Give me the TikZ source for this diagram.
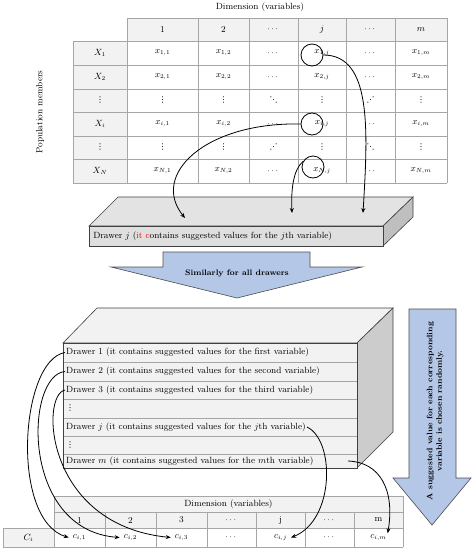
\documentclass[tikz,border=0pt]{standalone}
\usepackage{amsmath,amssymb}
\usepackage{fontspec}
\usepackage{xcolor}
\usetikzlibrary{arrows.meta,positioning,calc}
\newfontfamily\dotsfont{DejaVu Sans}
\definecolor{tgray}{HTML}{F2F2F2}
\definecolor{arrowblue}{HTML}{B4C7E7}
\newcommand{\vdts}{{\dotsfont\footnotesize ⋮}}
\newcommand{\ddts}{{\dotsfont\footnotesize ⋱}}
\newcommand{\udts}{{\dotsfont\footnotesize ⋰}}

\begin{document}
\begin{tikzpicture}[
		x=1pt, y=-1pt,
		font=\fontsize{9}{10.5}\selectfont,
		every node/.style={inner sep=1pt},
		tabline/.style={draw=gray!70, line width=0.6pt},
		ring/.style={draw, circle, line width=0.8pt, minimum size=22pt, inner sep=0pt},
		feed/.style={-{Stealth[length=5pt,width=4pt]}, line width=0.8pt},
		boxface/.style={draw=black!75, line width=0.6pt},
		bigarrow/.style={draw=black!70, fill=arrowblue, line width=0.6pt}
		]
		
		\useasboundingbox (0,0) rectangle (476,550);
		
		\fill[tgray] (127,18) rectangle (447,41) (73,41) rectangle (127,183);
		\draw[tabline] (127,18) -- (447,18);
		\foreach \y in {41,65,89,112,136,159,183}
			\draw[tabline] (73,\y) -- (447,\y);
		\draw[tabline] (73,41) -- (73,183);
		\foreach \x in {127,198,249,298,346,395,447}
			\draw[tabline] (\x,18) -- (\x,183);
		
		\node (dimtop) at (260,7) {Dimension (variables)};
		\node[rotate=90] (pop) at (40,112) {Population members};
		
		\foreach \cx/\h [count=\k] in {162.5/1,223.5/2,273.5/\cdots,322/j,370.5/\cdots,421/m}
			\node (hd-\k) at (\cx,29.5) {$\h$};
		\foreach \n/\y in {1/53,2/77,i/124,N/171}{
			\node (lab-\n) at (100,\y) {$X_\n$};
			\foreach \cx/\k in {162.5/1,223.5/2,322/j,421/m}
				\node (x-\n-\k) at (\cx,\y) {$x_{\n,\k}$};
			\node (cd-\n-3) at (273.5,\y) {$\cdots$};
			\node (cd-\n-5) at (370.5,\y) {$\cdots$};
		}
		\foreach \n/\y/\p/\q in {a/100.5/\ddts/\udts, b/147.5/\udts/\ddts}{
			\node (lab-\n) at (100,\y) {\vdts};
			\foreach \cx/\k in {162.5/1,223.5/2,322/4,421/6}
				\node (v-\n-\k) at (\cx,\y) {\vdts};
			\node (v-\n-3) at (273.5,\y) {\p};
			\node (v-\n-5) at (370.5,\y) {\q};
		}
		
		\node[ring] (r1) at (312,55) {};
		\node[ring] (ri) at (312,124) {};
		\node[ring] (rN) at (313,167) {};
		
		% drawer j
		\filldraw[boxface, fill=gray!22] (89,226) -- (118,197) -- (413,197) -- (383,226) -- cycle;
		\filldraw[boxface, fill=gray!50] (383,226) -- (413,197) -- (413,217) -- (383,246) -- cycle;
		\node[boxface, fill=gray!25, anchor=north west, minimum height=20pt, text width=286pt, inner sep=4pt, align=left] (drawerj) at (89,226)
			{Drawer $j$ (\textcolor{red}{it c}ontains suggested values for the $j$th variable)};
		
		\coordinate (in1) at (185,218);
		\coordinate (in2) at (292,213);
		\coordinate (in3) at (363,213);
		\draw[feed] (r1.east) .. controls (372,55) and (368,130) .. (in3);
		\draw[feed] (ri.west) .. controls (205,122) and (150,175) .. (in1);
		\draw[feed] (rN.150) .. controls (293,170) and (291,190) .. (in2);
		
		\filldraw[bigarrow] (163,252) -- (310,252) -- (310,267) -- (362,267) -- (237,298) -- (111,267) -- (163,267) -- cycle;
		\node[font=\footnotesize\bfseries] (similar) at (237,273) {Similarly for all drawers};
		
		% all drawers
		\filldraw[boxface, fill=tgray] (63,343) -- (97,308) -- (393,308) -- (357,343) -- cycle;
		\filldraw[boxface, fill=gray!40] (357,343) -- (393,308) -- (393,432) -- (357,468) -- cycle;
		\foreach \ya/\yb in {343/362,362/381,381/399,399/418,418/436,436/454,454/468}
			\filldraw[boxface, draw=gray!70, fill=tgray] (63,\ya) rectangle (357,\yb);
		\draw[boxface] (63,343) rectangle (357,468);
		\foreach \n/\y/\t in {
			d1/352.5/Drawer 1 (it contains suggested values for the first variable),
			d2/371.5/Drawer 2 (it contains suggested values for the second variable),
			d3/390/Drawer 3 (it contains suggested values for the third variable),
			dv1/408.5/\vdts,
			dj/427/Drawer $j$ (it contains suggested values for the $j$th variable),
			dv2/445/\vdts,
			dm/461/Drawer $m$ (it contains suggested values for the $m$th variable)}
			\node[anchor=west] (\n) at (65,\y) {\t};
		
		\filldraw[bigarrow] (409,309) -- (456,309) -- (456,478) -- (471,478) -- (432,525) -- (393,478) -- (409,478) -- cycle;
		\node[rotate=90, align=center, font=\footnotesize\bfseries] (chosen) at (435,411)
			{A suggested value for each corresponding\\variable is chosen randomly.};
		
		% result row
		\fill[tgray] (54,496) rectangle (403,528) (3,528) rectangle (54,547);
		\foreach \y in {496,512}
			\draw[tabline] (54,\y) -- (403,\y);
		\foreach \y in {528,547}
			\draw[tabline] (3,\y) -- (403,\y);
		\draw[tabline] (3,528) -- (3,547);
		\foreach \x in {54,403}
			\draw[tabline] (\x,496) -- (\x,547);
		\foreach \x in {105,156,207,256,305,354}
			\draw[tabline] (\x,512) -- (\x,547);
		\node (dimbot) at (228.5,504) {Dimension (variables)};
		\node (clab) at (28.5,537.5) {$C_i$};
		\foreach \cx/\h/\k in {79.5/1/1,130.5/2/2,181.5/3/3,231.5/$\cdots$/4,280.5/j/j,329.5/$\cdots$/6,378.5/m/m}
			\node (hb-\k) at (\cx,520) {\h};
		\foreach \cx/\k in {79.5/1,130.5/2,181.5/3,280.5/j,378.5/m}
			\node (c\k) at (\cx,537.5) {$c_{i,\k}$};
		\node (cd4) at (231.5,537.5) {$\cdots$};
		\node (cd6) at (329.5,537.5) {$\cdots$};
		
		\coordinate (mout) at (348,461);
		\draw[feed] (d1.west) .. controls (20,360) and (10,520) .. ([xshift=-3pt]c1.west);
		\draw[feed] (d2.west) .. controls (25,375) and (20,530) .. ([xshift=-3pt]c2.west);
		\draw[feed] (d3.west) .. controls (40,395) and (45,525) .. ([xshift=-3pt]c3.west);
		\draw[feed] (dj.east) .. controls (335,440) and (335,520) .. ([xshift=3pt]cj.east);
		\draw[feed] (mout) .. controls (380,462) and (395,490) .. (cm.north east);
		
	\end{tikzpicture}
\end{document}
